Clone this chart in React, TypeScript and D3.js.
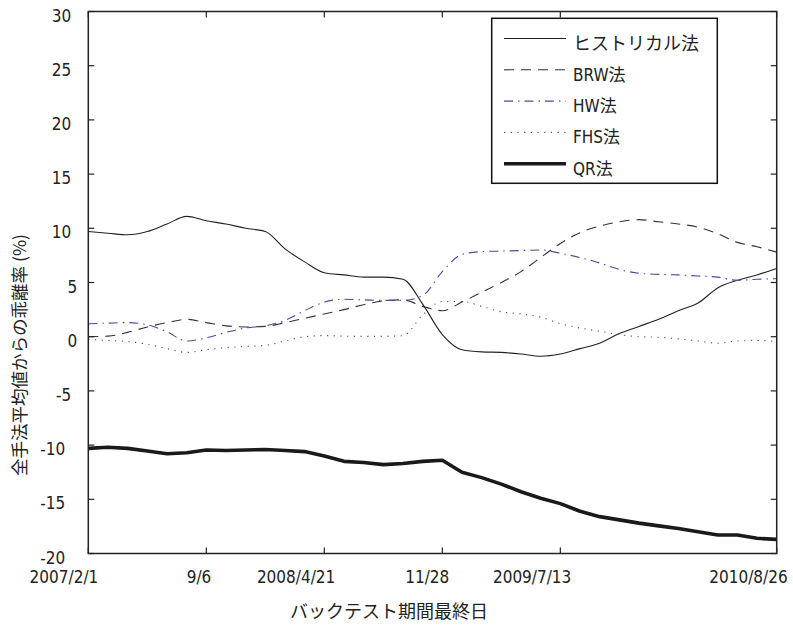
import React from "react";
import * as d3 from "d3";

// trading-day index grid (step 25)
const xIdx = [0, 25, 50, 75, 100, 125, 150, 175, 200, 225, 250, 275, 300, 325, 350, 375, 400, 425, 450, 475, 500, 525, 550, 575, 600, 625, 650, 675, 700, 725, 750, 775, 800, 825, 850, 875];

const histVals = [9.7, 9.55, 9.4, 9.7, 10.4, 11.1, 10.7, 10.4, 10.0, 9.7, 8.1, 6.9, 5.9, 5.7, 5.5, 5.5, 5.3, 3.0, 0.2, -1.2, -1.4, -1.45, -1.6, -1.8, -1.6, -1.1, -0.6, 0.3, 0.95, 1.6, 2.4, 3.1, 4.5, 5.2, 5.7, 6.3];
const brwVals = [0.0, 0.05, 0.4, 0.9, 1.3, 1.6, 1.3, 1.0, 0.9, 0.95, 1.3, 1.7, 2.1, 2.5, 2.95, 3.3, 3.4, 2.8, 2.4, 3.2, 4.1, 5.0, 6.0, 7.3, 8.6, 9.6, 10.2, 10.6, 10.8, 10.6, 10.4, 10.1, 9.5, 8.7, 8.3, 7.8];
const hwVals = [1.2, 1.25, 1.3, 1.1, 0.45, -0.4, -0.1, 0.4, 0.8, 1.0, 1.5, 2.4, 3.2, 3.45, 3.4, 3.35, 3.35, 3.8, 6.0, 7.6, 7.85, 7.9, 7.95, 8.0, 7.7, 7.3, 6.8, 6.2, 5.85, 5.75, 5.7, 5.6, 5.5, 5.2, 5.3, 5.35];
const fhsVals = [-0.25, -0.35, -0.45, -0.7, -1.1, -1.45, -1.2, -1.0, -0.9, -0.8, -0.4, 0.0, 0.1, 0.05, 0.03, 0.03, 0.1, 2.0, 3.25, 3.25, 2.8, 2.3, 2.1, 1.8, 1.2, 0.8, 0.5, 0.2, 0.0, -0.05, -0.2, -0.4, -0.6, -0.4, -0.35, -0.43];
const qrVals = [-10.3, -10.2, -10.3, -10.55, -10.8, -10.7, -10.45, -10.5, -10.45, -10.4, -10.5, -10.6, -11.0, -11.5, -11.6, -11.8, -11.7, -11.5, -11.4, -12.5, -13.0, -13.6, -14.3, -14.9, -15.4, -16.1, -16.6, -16.9, -17.2, -17.45, -17.7, -18.0, -18.3, -18.3, -18.6, -18.7];

const seriesNames = ["ヒストリカル法", "BRW法", "HW法", "FHS法", "QR法"];

const xTickIdx = [0, 150, 300, 450, 600, 875];
const xTickLabels = ["2007/2/1", "9/6", "2008/4/21", "11/28", "2009/7/13", "2010/8/26"];
const yTicks = [-20, -15, -10, -5, 0, 5, 10, 15, 20, 25, 30];

const yTitle = "全手法平均値からの乖離率 (%)";
const xTitle = "バックテスト期間最終日";

const styles = [
  { stroke: "#222", width: 1.1, dash: "none" },
  { stroke: "#333", width: 1.1, dash: "10,7" },
  { stroke: "#4b4ba0", width: 1.1, dash: "9,5,1.5,5" },
  { stroke: "#555", width: 1.1, dash: "1.2,5.5" },
  { stroke: "#1a1a1a", width: 3.6, dash: "none" },
];

const W = 793;
const H = 626;
const L = 88.3, R = 776.7, T = 11.5, B = 553.5;

export default function App() {
  const x = d3.scaleLinear().domain([0, 875]).range([L, R]);
  const y = d3.scaleLinear().domain([-20, 30]).range([B, T]);
  const allVals = [histVals, brwVals, hwVals, fhsVals, qrVals];
  const lineSmooth = d3
    .line<number>()
    .x((_, i) => x(xIdx[i]))
    .y((d) => y(d))
    .curve(d3.curveMonotoneX);
  const lineLin = d3
    .line<number>()
    .x((_, i) => x(xIdx[i]))
    .y((d) => y(d));

  const tickFont = "'DejaVu Sans Condensed', 'Liberation Sans Narrow', sans-serif";
  const legFont = "'DejaVu Sans Condensed', 'Noto Sans CJK JP', sans-serif";
  const cjkFont = "'Noto Sans CJK JP', sans-serif";

  const legX0 = 491.7, legY0 = 18.3, legW = 225.6, legH = 165;
  const rowY = (i: number) => 38.5 + i * 31.3;

  return (
    <div style={{ position: "absolute", left: 0, top: 0 }}>
      <svg width={W} height={H} style={{ display: "block", background: "#fff" }}>
        {/* series */}
        {allVals.map((vals, k) => (
          <path
            key={k}
            d={(k === 4 ? lineLin : lineSmooth)(vals) || ""}
            fill="none"
            stroke={styles[k].stroke}
            strokeWidth={styles[k].width}
            strokeDasharray={styles[k].dash}
            strokeLinejoin="round"
          />
        ))}
        {/* frame */}
        <rect x={L} y={T} width={R - L} height={B - T} fill="none" stroke="#222" strokeWidth={1.5} />
        {/* y ticks */}
        {yTicks.map((t) => (
          <g key={"y" + t}>
            <line x1={L} x2={L + 6} y1={y(t)} y2={y(t)} stroke="#222" strokeWidth={1.2} />
            <line x1={R} x2={R - 6} y1={y(t)} y2={y(t)} stroke="#222" strokeWidth={1.2} />
            <text
              x={L - 11 - 6 * (String(t).length - 1)}
              y={y(t) + 10}
              textAnchor="end"
              fontFamily={tickFont}
              fontSize={17}
              fill="#222"
            >
              {t}
            </text>
          </g>
        ))}
        {/* x ticks */}
        {xTickIdx.map((t, i) => (
          <g key={"x" + t}>
            <line x1={x(t)} x2={x(t)} y1={B} y2={B - 6} stroke="#222" strokeWidth={1.2} />
            <line x1={x(t)} x2={x(t)} y1={T} y2={T + 6} stroke="#222" strokeWidth={1.2} />
            <text
              x={x(t) + 2 + xTickLabels[i].length}
              y={583}
              textAnchor="end"
              fontFamily={tickFont}
              fontSize={17}
              fill="#222"
            >
              {xTickLabels[i]}
            </text>
          </g>
        ))}
        {/* axis titles */}
        <text
          transform={`translate(26,355) rotate(-90)`}
          textAnchor="middle"
          fontFamily={cjkFont}
          fontSize={17.5}
          fill="#222"
        >
          {yTitle}
        </text>
        <text x={389} y={618} textAnchor="middle" fontFamily={cjkFont} fontSize={18} fill="#222">
          {xTitle}
        </text>
        {/* legend */}
        <rect x={legX0} y={legY0} width={legW} height={legH} fill="#fff" stroke="#111" strokeWidth={1.5} />
        {seriesNames.map((name, i) => (
          <g key={name}>
            <line
              x1={504}
              x2={566}
              y1={rowY(i)}
              y2={rowY(i)}
              stroke={styles[i].stroke}
              strokeWidth={styles[i].width}
              strokeDasharray={styles[i].dash}
            />
            <text
              x={573}
              y={rowY(i) + 11}
              fontFamily={i === 0 ? cjkFont : legFont}
              fontSize={i === 0 ? 18 : 17}
              fill="#222"
            >
              {name}
            </text>
          </g>
        ))}
      </svg>
    </div>
  );
}
